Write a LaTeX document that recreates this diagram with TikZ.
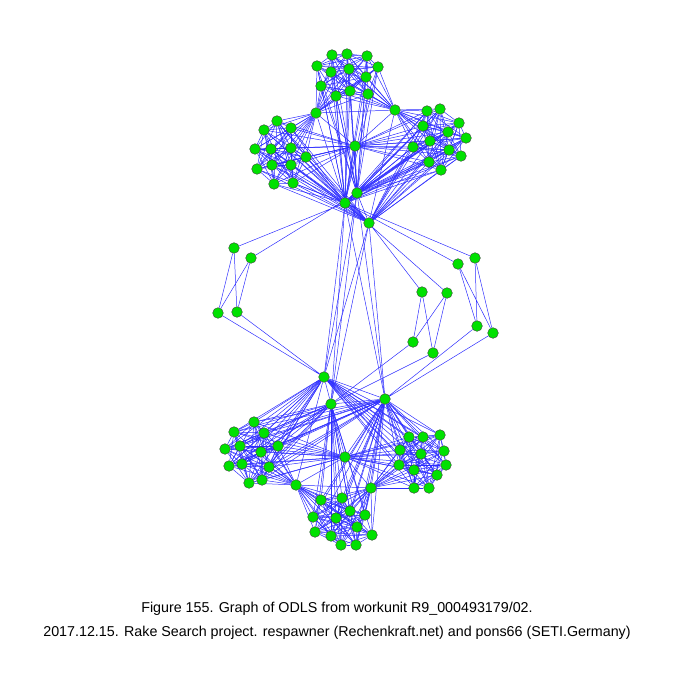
\documentclass[tikz,border=0pt]{standalone}
\usepackage{fontspec}
\setmainfont{Liberation Sans}
\pgfdeclarelayer{background}
\pgfsetlayers{background,main}
\definecolor{vgreen}{RGB}{0,225,0}
\definecolor{eblue}{RGB}{45,45,255}
\tikzset{
  vtx/.style={circle,draw=black!75,line width=0.35pt,fill=vgreen,inner sep=0pt,minimum size=0.32cm},
  edge/.style={eblue,line width=0.42pt},
  captext/.style={font=\fontsize{12.2}{14}\selectfont,inner sep=0pt}
}
\newcommand\clusteredges[1]{%
  \foreach \i in {1,...,11}{%
    \pgfmathtruncatemacro\ni{\i+1}%
    \foreach \j in {\ni,...,12}{%
      \pgfmathtruncatemacro\k{mod(\i*5+\j*3,4)}%
      \ifnum\k>0 \draw[edge] (#1\i) -- (#1\j);\fi
    }}}
\newcommand\fan[2]{%
  \foreach \i in {1,...,12}{\draw[edge] (#1) -- (#2\i);}}
\begin{document}
\begin{tikzpicture}[x=0.03cm,y=-0.03cm]
\useasboundingbox (0,0) rectangle (675,675);
% nodes
\foreach \n/\x/\y in {
 t1/332/55,t2/347/54,t3/367/56,t4/317/66,t5/378/67,t6/331/72,t7/349/69,t8/366/77,t9/321/86,t10/336/96,t11/350/91,t12/368/94,
 a1/277/121,a2/264/130,a3/291/128,a4/255/149,a5/271/149,a6/291/148,a7/306/157,a8/257/169,a9/272/165,a10/291/165,a11/274/184,a12/293/183,
 b1/427/111,b2/440/109,b3/459/123,b4/423/126,b5/448/132,b6/466/138,b7/430/141,b8/413/147,b9/449/150,b10/461/156,b11/429/162,b12/441/170,
 P/316/113,Q/395/110,R/355/146,S/357/193,T/345/203,U/369/223,
 l1/234/248,l2/251/258,l3/218/313,l4/237/312,
 r1/458/264,r2/475/258,r3/422/292,r4/447/293,r5/477/326,r6/493/333,r7/413/342,r8/433/353,
 M1/324/377,M2/331/404,M3/385/399,M4/345/457,BL/296/485,BR/371/488,
 c1/254/422,c2/234/432,c3/264/433,c4/225/449,c5/240/446,c6/261/452,c7/278/446,c8/229/466,c9/242/464,c10/269/467,c11/249/483,c12/262/480,
 d1/409/437,d2/423/437,d3/440/435,d4/400/450,d5/421/454,d6/444/451,d7/399/465,d8/414/470,d9/446/465,d10/437/475,d11/414/488,d12/429/488,
 e1/321/500,e2/342/498,e3/350/511,e4/313/517,e5/336/518,e6/365/515,e7/357/527,e8/315/532,e9/331/536,e10/372/535,e11/341/545,e12/356/545}
 {\node[vtx] (\n) at (\x,\y) {};}
\begin{pgfonlayer}{background}
\clusteredges{t}\clusteredges{a}\clusteredges{b}
\clusteredges{c}\clusteredges{d}\clusteredges{e}
% top hubs
\fan{P}{t}\fan{P}{a}\fan{Q}{t}\fan{Q}{b}
\fan{R}{a}\fan{R}{b}\fan{S}{t}\fan{S}{b}
\fan{T}{a}\fan{T}{b}\fan{T}{t}\fan{U}{a}\fan{U}{b}
\draw[edge] (P)--(R) (Q)--(R) (P)--(Q) (R)--(S) (R)--(T) (S)--(T) (S)--(U) (T)--(U) (P)--(T) (Q)--(U);
% long middle
\foreach \u in {S,T,U}{\foreach \v in {M1,M2,M3}{\draw[edge] (\u)--(\v);}}
% left
\draw[edge] (l1)--(T) (l2)--(S) (l1)--(l3) (l1)--(l4) (l2)--(l3) (l2)--(l4) (l3)--(M1) (l4)--(M1);
% right
\draw[edge] (r1)--(T) (r2)--(T) (r3)--(U) (r4)--(T)
 (r1)--(r5) (r1)--(r6) (r2)--(r5) (r2)--(r6)
 (r3)--(r7) (r3)--(r8) (r4)--(r7) (r4)--(r8)
 (r7)--(M2) (r8)--(M2) (r5)--(M3) (r6)--(M3);
% bottom hubs
\fan{M1}{c}\fan{M1}{d}\fan{M2}{c}\fan{M2}{e}
\fan{M3}{d}\fan{M3}{e}\fan{M3}{c}\fan{M4}{c}\fan{M4}{d}
\fan{BL}{c}\fan{BL}{e}\fan{BR}{d}\fan{BR}{e}
\draw[edge] (M1)--(M2) (M1)--(M3) (M2)--(M3) (M2)--(M4) (M3)--(M4) (M4)--(BL) (M4)--(BR) (BL)--(BR) (M1)--(BL) (M3)--(BR);
\end{pgfonlayer}
\node[captext] (cap1) at (337,609) {Figure 155. Graph of ODLS from workunit R9\_000493179/02.};
\node[captext] (cap2) at (337,633) {2017.12.15. Rake Search project. respawner (Rechenkraft.net) and pons66 (SETI.Germany)};
\end{tikzpicture}
\end{document}
